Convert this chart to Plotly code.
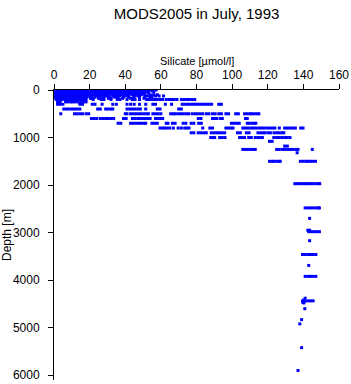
import plotly.graph_objects as go

title_text = "MODS2005 in July, 1993"
x_title = "Silicate [µmol/l]"
y_title = "Depth [m]"
x_ticks = [0, 20, 40, 60, 80, 100, 120, 140, 160]
y_ticks = [0, 1000, 2000, 3000, 4000, 5000, 6000]

# silicate values (µmol/l) observed at each depth (m)
si_0 = [0.3, 1.5, 3, 4.5, 6, 7.5, 9, 10.5, 12, 13.5, 15, 16.5, 18, 19.5, 21, 22.5, 24, 25.5, 27, 28.5, 30, 31.5, 33, 34.5, 36, 37.5, 39, 40.5, 42, 43.5, 45, 46.5, 48, 49.5, 51, 52.5, 54, 55.5, 57.3]
si_20 = [0.5, 2, 3.5, 5, 6.5, 8, 9.5, 11, 12.5, 14, 15.5, 17, 18.5, 20, 21.5, 23, 24.5, 26, 27.5, 29, 30.5, 32, 33.5, 35, 36.5, 38, 39.5, 41, 42.5, 44, 45.5, 47, 48.5, 50, 51.5, 53, 55]
si_40 = [0.4, 1.8, 3.2, 4.6, 6, 7.4, 8.8, 10.2, 11.6, 13, 14.4, 15.8, 17.2, 18.6, 20, 21.4, 22.8, 24.2, 25.6, 27, 28.4, 29.8, 31.2, 32.6, 34, 35.4, 36.8, 38.2, 39.6, 41, 42.4, 43.8, 45.2, 46.6, 48, 49.4, 50.8, 52.2, 56]
si_60 = [0.6, 2.1, 3.6, 5.1, 6.6, 8.1, 9.6, 11.1, 12.6, 14.1, 15.6, 17.1, 18.6, 20.1, 21.6, 23.1, 24.6, 26.1, 27.6, 29.1, 30.6, 32.1, 33.6, 35.1, 36.6, 38.1, 39.6, 41.1, 42.6, 44.1, 45.6, 47.1, 48.6, 50.1, 53]
si_80 = [0.5, 2, 3.5, 5, 6.5, 8, 9.5, 11, 12.5, 14, 15.5, 17, 18.5, 20, 21.5, 23, 24.5, 26, 27.5, 29, 30.5, 32, 33.5, 35, 36.5, 38, 39.5, 41, 42.5, 44, 45.5, 47, 48.5, 50]
si_100 = [0.8, 2.3, 3.8, 5.3, 6.8, 8.3, 9.8, 11.3, 12.8, 14.3, 15.8, 17.3, 18.8, 20.3, 22.5, 24, 26, 27.5, 29.5, 31, 33, 35, 36.5, 38.5, 40, 42, 44, 45.5, 47.5, 49, 51, 54, 56, 58]
si_125 = [0.7, 2.2, 3.7, 5.2, 6.7, 8.2, 9.7, 11.2, 12.7, 14.2, 15.7, 17.2, 19.5, 21, 24, 25.5, 28, 29.5, 33, 34.5, 37, 40, 41.5, 45, 47, 52, 53.5, 55, 57, 59, 61.5]
si_150 = [0.5, 2, 3.5, 5, 6.5, 8, 9.5, 11, 12.5, 14, 15.5, 17, 18.5, 21, 23, 26, 27.5, 31, 34, 35.5, 39, 42, 45, 48, 51, 54]
si_175 = [1, 2.5, 4, 5.5, 7, 8.5, 10, 11.5, 13, 14.5, 16, 17.5, 20.5, 22, 25, 28, 30.5, 32, 36, 38.5, 43, 44.5, 48, 50.5, 55]
si_200 = [1.3, 2.8, 4.3, 6, 7.5, 9, 10.5, 12, 13.5, 15, 16.5, 18, 22, 26.5, 28, 32, 35.5, 37, 41, 44, 45.5, 48, 52, 53.5, 55, 56.5, 58, 59.5, 61, 63, 64.5, 66, 67.5, 69, 71.5, 73, 74.5, 76, 77.5, 79]
si_250 = [2, 3.5, 6.5, 8, 9.5, 10.5, 12, 13.5, 15, 16.5, 18]
si_300 = [2, 3.5, 5, 14.5, 16, 21.5, 23, 27, 33, 35, 41, 43, 45, 48, 51.5, 55.5, 57, 62.5, 66, 72, 73.5, 75, 76.5, 78, 79.5, 81, 82.5, 84, 85.5, 87, 88.5, 92.5, 94]
si_400 = [5.5, 7, 8.5, 10, 11.5, 13, 14.5, 24.5, 26, 29, 30.5, 32, 33, 41, 42.5, 44, 45.5, 47, 48.5, 51.5, 58, 59.5, 70, 71.5]
si_500 = [3.8, 11.5, 13, 14.5, 16, 18, 19.5, 40, 41, 43, 44.5, 46, 47.5, 49, 50.5, 52, 53, 55.5, 57, 58.5, 60, 65.5, 67, 68, 69.5, 71, 72.5, 74, 75.5, 77.5, 79, 80.5, 82, 83.5, 85.5, 87, 89, 90.5, 92.5, 94, 96.5, 98, 102, 103.5, 107, 108.5, 110, 111, 112.5, 114, 115]
si_600 = [21, 22.5, 24, 26, 27.5, 29, 30.5, 32, 33.5, 39, 40.5, 44, 45.5, 47, 48.5, 50, 51, 52.5, 54, 57, 58, 59.5, 61, 81, 82.5, 89, 90.5, 91.5, 93.5, 94.5, 107.5, 108.5]
si_700 = [36, 37.5, 43, 44.5, 46, 47.5, 49, 50.5, 51.5, 55, 56.5, 58, 63, 64, 66.5, 68, 72.5, 74, 77, 78.5, 81.2, 82.7, 99.6, 101, 102.5, 104, 108.5, 109.5, 111, 112.5, 113.3]
si_800 = [59.5, 61, 62, 63.5, 65, 67, 69.7, 71.5, 73.4, 74.6, 75.8, 83.5, 87.5, 89, 96.5, 98, 99.5, 100.5, 106, 107.5, 109, 110.5, 112, 113.5, 115, 116.5, 118, 119.5, 121, 122.6, 124, 126.5, 129.5, 131, 132.5, 134, 135.5, 138.5, 139.8]
si_900 = [77, 78.5, 81, 82.5, 84, 85.5, 88.3, 89.8, 91.3, 92.8, 94.3, 95.8, 103, 104.6, 108, 109.5, 114.5, 116, 117.5, 118.3, 120, 121.5, 123.5, 125, 126.5, 128, 129]
si_1000 = [88, 89.5, 90.2, 93, 94.5, 96, 104.2, 105.5, 107, 109.3, 110.8, 113, 114.5, 116, 117, 123.4, 125, 126.5, 128, 129.5, 131, 132.5]
si_1080 = [121, 122.5]
si_1180 = [129.5, 131]
si_1250 = [106, 107.5, 109, 110.5, 112, 113, 125, 126.5, 128.3, 129.8, 131.3, 132.8, 134.3, 135.8, 137, 145]
si_1320 = [136.5]
si_1500 = [121, 122.5, 123.5, 125, 126.5, 127, 138.3, 139.8, 141.3, 142.5, 144, 145.4, 146.8]
si_1970 = [135.2, 136.4, 137.5, 139, 140.5, 141.6, 142.5, 144, 145.5, 147, 148.5, 149.2]
si_2480 = [141, 142.5, 144, 145.5, 147, 148.5, 149]
si_2700 = [143.5]
si_2950 = [142.5, 143.5]
si_2980 = [143, 144.5, 146, 147.5, 149]
si_3170 = [143.5]
si_3460 = [139.5, 141, 142.5, 144, 145.5, 147]
si_3690 = [143]
si_3920 = [141, 142.5, 144, 145.5, 147]

# scattered deep observations
deep_depth = [4380, 4420, 4440, 4440, 4450, 4470, 4435, 4435, 4435, 4480, 4600, 4830, 4920, 5420, 5900]
deep_si = [141, 140, 139.5, 141, 140, 139.8, 142.5, 144, 145.5, 140.3, 140.8, 139, 138, 139, 137]

rows = [
    (0, si_0), (20, si_20), (40, si_40), (60, si_60), (80, si_80), (100, si_100),
    (125, si_125), (150, si_150), (175, si_175), (200, si_200), (250, si_250),
    (300, si_300), (400, si_400), (500, si_500), (600, si_600), (700, si_700),
    (800, si_800), (900, si_900), (1000, si_1000), (1080, si_1080), (1180, si_1180),
    (1250, si_1250), (1320, si_1320), (1500, si_1500), (1970, si_1970), (2480, si_2480),
    (2700, si_2700), (2950, si_2950), (2980, si_2980), (3170, si_3170), (3460, si_3460),
    (3690, si_3690), (3920, si_3920),
]

xs, ys = [], []
for d, vals in rows:
    xs.extend(vals)
    ys.extend([d] * len(vals))
xs.extend(deep_si)
ys.extend(deep_depth)

font_family = "Liberation Sans, Arial, Helvetica, sans-serif"

fig = go.Figure()
fig.add_trace(go.Scatter(
    x=xs, y=ys, mode="markers",
    marker=dict(symbol="square", size=3, color="#0000FF", line=dict(width=0)),
    showlegend=False, hoverinfo="skip",
))

fig.update_layout(
    width=351, height=384,
    margin=dict(l=54, r=12, t=90, b=4, autoexpand=False),
    paper_bgcolor="white", plot_bgcolor="white",
    font=dict(family=font_family, size=12, color="black"),
    title=dict(text=title_text, x=0.56, xanchor="center", y=0.965, yanchor="middle",
               font=dict(size=15, family=font_family, color="black")),
    xaxis=dict(
        side="top", range=[0, 160], tickvals=x_ticks, ticktext=[str(v) for v in x_ticks],
        showgrid=False, zeroline=False, showline=True, linecolor="black", linewidth=1,
        ticks="outside", ticklen=5, tickcolor="black", tickwidth=1, automargin=False,
        tickfont=dict(size=12, family=font_family), mirror=False,
    ),
    yaxis=dict(
        range=[6100, 0], tickvals=y_ticks, ticktext=[str(v) for v in y_ticks],
        showgrid=False, zeroline=False, showline=True, linecolor="black", linewidth=1,
        ticks="outside", ticklen=5, tickcolor="black", tickwidth=1, automargin=False,
        tickfont=dict(size=12, family=font_family), mirror=False, ticklabelstandoff=6,
    ),
    annotations=[
        dict(text=x_title, xref="paper", yref="paper", x=0.5, y=(380 - 61) / 290,
             xanchor="center", yanchor="middle", showarrow=False,
             font=dict(size=11, family=font_family, color="black")),
        dict(text=y_title, xref="paper", yref="paper", x=(7 - 54) / 285, y=0.5,
             xanchor="center", yanchor="middle", showarrow=False, textangle=-90,
             font=dict(size=12, family=font_family, color="black")),
    ],
)

fig.write_html("out.html")
